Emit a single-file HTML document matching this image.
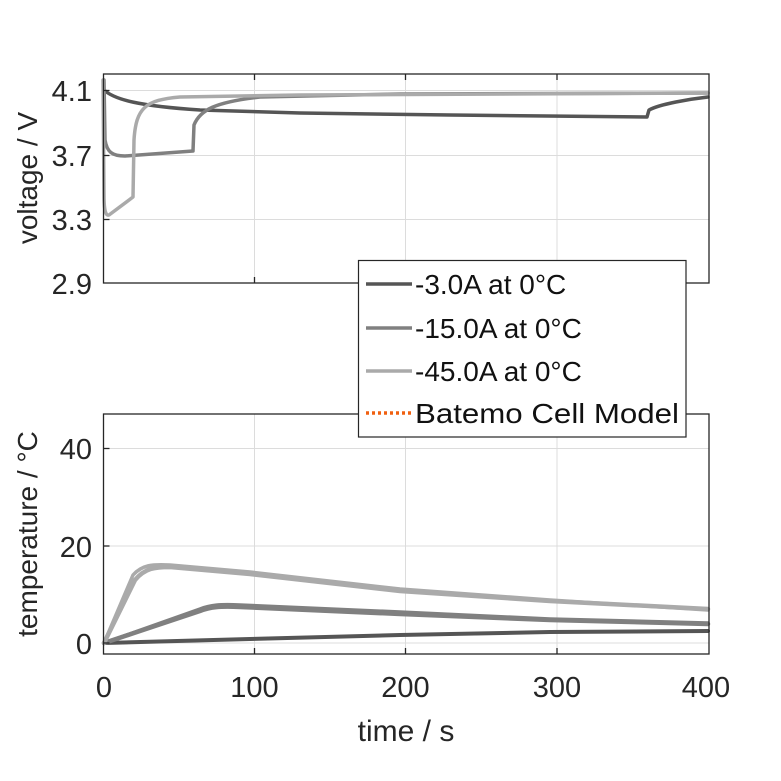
<!DOCTYPE html>
<html><head><meta charset="utf-8"><style>
body{margin:0;background:#fff}
svg{display:block;font-family:"Liberation Sans",sans-serif}
</style></head><body>
<svg width="781" height="781" viewBox="0 0 781 781">
<rect width="781" height="781" fill="#fff"/>
<g stroke="#dcdcdc" stroke-width="1">
<line x1="103.5" y1="90.5" x2="709" y2="90.5"/><line x1="103.5" y1="155.5" x2="709" y2="155.5"/><line x1="103.5" y1="219.5" x2="709" y2="219.5"/>
<line x1="254.5" y1="74" x2="254.5" y2="283"/><line x1="405.5" y1="74" x2="405.5" y2="283"/><line x1="557" y1="74" x2="557" y2="283"/>
<line x1="103.5" y1="448.5" x2="709" y2="448.5"/><line x1="103.5" y1="546" x2="709" y2="546"/><line x1="103.5" y1="643" x2="709" y2="643"/>
<line x1="254.5" y1="414" x2="254.5" y2="654"/><line x1="405.5" y1="414" x2="405.5" y2="654"/><line x1="557" y1="414" x2="557" y2="654"/>
</g>
<g fill="none" stroke-linejoin="round" stroke-linecap="round">
<path d="M104,90 C115,100 140,106 200,110 L300,113 L450,115 L647,117 L649,110 C660,104 690,99 708,97" stroke="#555" stroke-width="3.5"/>
<path d="M104,80 L105,140 C107,152 112,156 125,156 L193,151 L194,125 C200,110 215,102 260,97 L400,94 L708,93" stroke="#808080" stroke-width="3.5"/>
<path d="M103,80 L104,195 C104,212 106,216 109,215 L133,197 L134,140 C136,108 145,100 180,97 L300,95 L708,93" stroke="#aaa" stroke-width="3.5"/>
<path d="M104,643 L250,639 L400,635 L550,632 L708,631" stroke="#555" stroke-width="4"/>
<path d="M104,643 L200,611 C210,607 220,606 240,607 L400,614 L550,620 L708,624" stroke="#808080" stroke-width="4.5"/>
<path d="M104,643 L200,609 C210,605 220,604 240,605 L400,612 L550,619 L708,623" stroke="#808080" stroke-width="3.5"/>
<path d="M104,643 L135,580 C145,568 155,567 170,567 L250,574 L400,591 L550,601 L708,609" stroke="#aaa" stroke-width="4.5"/>
<path d="M104,643 L133,575 C142,565 152,564 170,565 L250,572 L400,589 L550,600 L708,610" stroke="#aaa" stroke-width="3.5"/>
</g>
<g fill="none" stroke="#262626" stroke-width="1.3">
<rect x="103.5" y="74" width="605.5" height="209"/>
<rect x="103.5" y="414" width="605.5" height="240"/>
</g>
<g stroke="#262626" stroke-width="1.3">
<line x1="254.5" y1="283" x2="254.5" y2="277"/><line x1="405.5" y1="283" x2="405.5" y2="277"/><line x1="557" y1="283" x2="557" y2="277"/>
<line x1="254.5" y1="74" x2="254.5" y2="80"/><line x1="405.5" y1="74" x2="405.5" y2="80"/><line x1="557" y1="74" x2="557" y2="80"/>
<line x1="103.5" y1="90.5" x2="109.5" y2="90.5"/><line x1="103.5" y1="155.5" x2="109.5" y2="155.5"/><line x1="103.5" y1="219.5" x2="109.5" y2="219.5"/>
<line x1="254.5" y1="654" x2="254.5" y2="648"/><line x1="405.5" y1="654" x2="405.5" y2="648"/><line x1="557" y1="654" x2="557" y2="648"/>
<line x1="103.5" y1="448.5" x2="109.5" y2="448.5"/><line x1="103.5" y1="546" x2="109.5" y2="546"/><line x1="103.5" y1="643" x2="109.5" y2="643"/>
</g>
<g fill="#262626" font-size="29" text-anchor="end">
<text x="92" y="101">4.1</text><text x="92" y="166">3.7</text><text x="92" y="230">3.3</text><text x="92" y="294">2.9</text>
<text x="92" y="459">40</text><text x="92" y="557">20</text><text x="92" y="654">0</text>
</g>
<g fill="#262626" font-size="29" text-anchor="middle">
<text x="104" y="697">0</text><text x="254.5" y="697">100</text><text x="405.5" y="697">200</text><text x="557" y="697">300</text><text x="706" y="697">400</text>
<text x="406" y="741" font-size="30">time / s</text>
<text transform="translate(37,178) rotate(-90)" font-size="28">voltage / V</text>
<text transform="translate(37,534) rotate(-90)" font-size="28">temperature / °C</text>
</g>
<rect x="358.5" y="260.5" width="327.5" height="176.5" fill="#fff" stroke="#262626" stroke-width="1.2"/>
<g stroke-width="3.5">
<line x1="366" y1="284" x2="412" y2="284" stroke="#555"/>
<line x1="366" y1="328" x2="412" y2="328" stroke="#808080"/>
<line x1="366" y1="371" x2="412" y2="371" stroke="#aaa"/>
<line x1="366" y1="413" x2="412" y2="413" stroke="#f06010" stroke-dasharray="3,3"/>
</g>
<g font-size="28" fill="#111">
<text x="415" y="294">-3.0A at 0°C</text>
<text x="415" y="338">-15.0A at 0°C</text>
<text x="415" y="381">-45.0A at 0°C</text>
<text x="415" y="423" textLength="264" lengthAdjust="spacingAndGlyphs">Batemo Cell Model</text>
</g>
</svg>
</body></html>
